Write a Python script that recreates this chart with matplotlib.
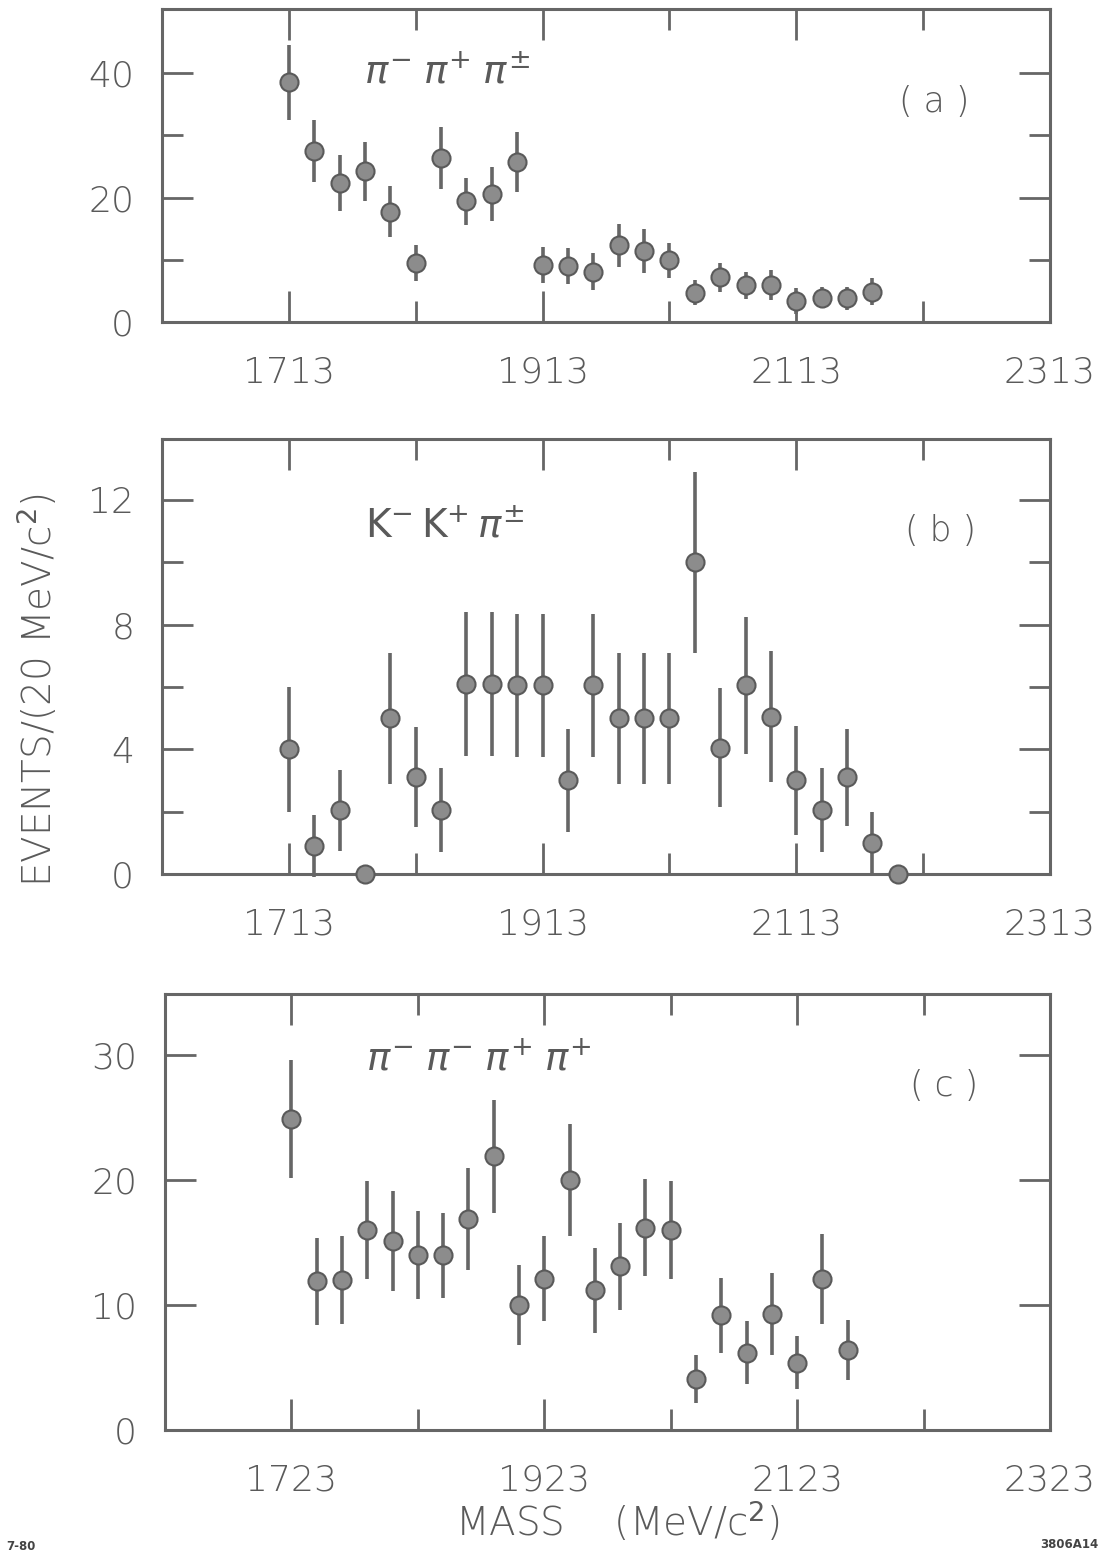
import matplotlib
matplotlib.use('Agg')
import matplotlib.pyplot as plt

plt.rcParams['font.family'] = ['DejaVu Sans']
plt.rcParams['mathtext.fontset'] = 'dejavusans'

# panel (a)  pi- pi+ pi+-
a_mass = [1713, 1733, 1753, 1773, 1793, 1813, 1833, 1853, 1873, 1893, 1913, 1933,
          1953, 1973, 1993, 2013, 2033, 2053, 2073, 2093, 2113, 2133, 2153, 2173]
a_events = [38.5, 27.5, 22.4, 24.2, 17.7, 9.5, 26.4, 19.4, 20.6, 25.7, 9.1, 9.0,
            8.1, 12.3, 11.4, 9.9, 4.7, 7.2, 5.9, 6.0, 3.4, 3.9, 3.8, 4.9]
a_err = [6.0, 5.0, 4.5, 4.8, 4.1, 2.9, 5.0, 3.8, 4.3, 4.8, 2.9, 2.9,
         3.0, 3.4, 3.6, 2.8, 2.0, 2.3, 2.2, 2.4, 2.1, 1.7, 1.8, 2.1]

# panel (b)  K- K+ pi+-
b_mass = [1713, 1733, 1753, 1773, 1793, 1813, 1833, 1853, 1873, 1893, 1913, 1933, 1953,
          1973, 1993, 2013, 2033, 2053, 2073, 2093, 2113, 2133, 2153, 2173, 2193]
b_events = [4.0, 0.9, 2.05, 0, 5.0, 3.1, 2.05, 6.1, 6.1, 6.05, 6.05, 3.0, 6.05,
            5.0, 5.0, 5.0, 10.0, 4.05, 6.05, 5.05, 3.0, 2.05, 3.1, 1.0, 0]
b_err = [2.0, 1.0, 1.3, 0, 2.1, 1.6, 1.35, 2.3, 2.3, 2.3, 2.3, 1.65, 2.3,
         2.1, 2.1, 2.1, 2.9, 1.9, 2.2, 2.1, 1.75, 1.35, 1.55, 1.0, 0]

# panel (c)  pi- pi- pi+ pi+
c_mass = [1723, 1743, 1763, 1783, 1803, 1823, 1843, 1863, 1883, 1903, 1923, 1943,
          1963, 1983, 2003, 2023, 2043, 2063, 2083, 2103, 2123, 2143, 2163]
c_events = [24.9, 11.9, 12.0, 16.0, 15.1, 14.0, 14.0, 16.9, 21.9, 10.0, 12.1, 20.0,
            11.2, 13.1, 16.2, 16.0, 4.1, 9.2, 6.2, 9.3, 5.4, 12.1, 6.4]
c_err = [4.7, 3.5, 3.5, 3.9, 4.0, 3.5, 3.4, 4.1, 4.5, 3.2, 3.4, 4.5,
         3.4, 3.5, 3.9, 3.9, 1.9, 3.0, 2.5, 3.3, 2.1, 3.6, 2.4]

# ticks
ab_xticks = [1713, 1913, 2113, 2313]
ab_xminor = [1813, 2013, 2213]
c_xticks = [1723, 1923, 2123, 2323]
c_xminor = [1823, 2023, 2223]
a_yticks = [0, 20, 40]
a_yminor = [10, 30]
b_yticks = [0, 4, 8, 12]
b_yminor = [2, 6, 10]
c_yticks = [0, 10, 20, 30]

ink = '#666666'
txt = '#5a5a5a'
W, H = 1107, 1558

fig = plt.figure(figsize=(W / 100, H / 100), dpi=100)


def panel(rect, mass, events, err, xlim, ylim, xt, xm, yt, ym, label, lxy, tag, txy):
    ax = fig.add_axes(rect)
    ax.errorbar(mass, events, yerr=err, fmt='o', ms=13, mfc='#8c8c8c', mec='#5a5a5a',
                mew=1.5, ecolor=ink, elinewidth=2.6, capsize=0, clip_on=False, zorder=3)
    ax.set_xlim(*xlim)
    ax.set_ylim(*ylim)
    ax.set_xticks(xt)
    ax.set_xticks(xm, minor=True)
    ax.set_yticks(yt)
    ax.set_yticks(ym, minor=True)
    ax.set_xticklabels([str(v) for v in xt], fontweight='light')
    ax.set_yticklabels([str(v) for v in yt], fontweight='light')
    ax.tick_params(which='both', direction='in', top=True, right=True,
                   color=ink, width=2, labelcolor=txt, labelsize=26)
    ax.tick_params(which='major', length=22)
    ax.tick_params(which='minor', length=15)
    ax.tick_params(axis='x', which='major', pad=24)
    ax.tick_params(axis='y', which='major', pad=20)
    for s in ax.spines.values():
        s.set_color(ink)
        s.set_linewidth(2.2)
    ax.text(lxy[0], lxy[1], label, fontsize=28, color=txt, ha='left', va='baseline')
    ax.text(txy[0], txy[1], tag, fontsize=25, color=txt, fontweight='light',
            ha='center', va='center')
    return ax


left = 162 / W
width = (1050 - 162) / W

panel([left, 1 - 322 / H, width, 313 / H], a_mass, a_events, a_err,
      (1613, 2313), (0, 50.3), ab_xticks, ab_xminor, a_yticks, a_yminor,
      r'$\pi^{-}\;\pi^{+}\;\pi^{\pm}$', (1772, 38.3), '( a )', (2222, 35.4))

panel([left, 1 - 874 / H, width, 435 / H], b_mass, b_events, b_err,
      (1613, 2313), (0, 13.95), ab_xticks, ab_xminor, b_yticks, b_yminor,
      r'$\mathrm{K}^{-}\,\mathrm{K}^{+}\,\pi^{\pm}$', (1773, 10.8), '( b )', (2227, 11.0))

panel([165 / W, 1 - 1430 / H, (1050 - 165) / W, 436 / H], c_mass, c_events, c_err,
      (1623, 2323), (0, 34.9), c_xticks, c_xminor, c_yticks, [],
      r'$\pi^{-}\;\pi^{-}\;\pi^{+}\;\pi^{+}$', (1782, 28.75), '( c )', (2239, 27.5))

fig.text(38 / W, 1 - 690 / H, r'EVENTS/(20 MeV/c$^2$)', rotation=90, fontsize=28,
         fontweight='light', color=txt, ha='center', va='center')
fig.text(617 / W, 1 - 1522 / H, r'MASS    (MeV/c$^2$)', fontsize=28,
         fontweight='light', color=txt, ha='center', va='center')
fig.text(6 / W, 1 - 1547 / H, '7-80', fontsize=8.5, fontweight='bold',
         color='#444444', ha='left', va='center')
fig.text(1098 / W, 1 - 1545 / H, '3806A14', fontsize=8.5, fontweight='bold',
         color='#444444', ha='right', va='center')

fig.savefig('out.png', dpi=100)
